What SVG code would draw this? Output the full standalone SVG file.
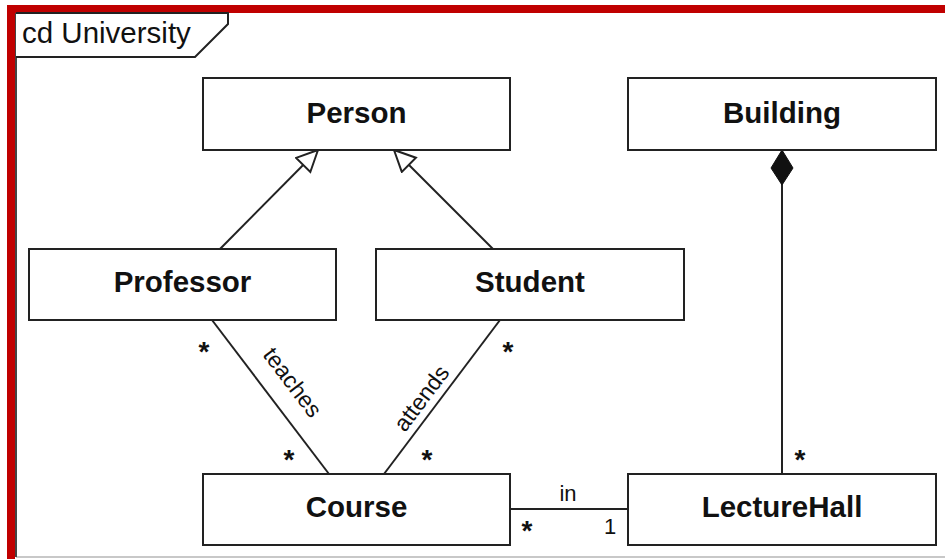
<svg xmlns="http://www.w3.org/2000/svg" width="945" height="559" viewBox="0 0 945 559">
  <style>
    .box { fill: #ffffff; stroke: #222222; stroke-width: 2; }
    .name { font-family: "Liberation Sans", Arial, sans-serif; font-size: 29.5px; font-weight: bold; fill: #111111; text-anchor: middle; }
    .lbl { font-family: "Liberation Sans", Arial, sans-serif; font-size: 22px; fill: #111111; }
    .rot { font-family: "Liberation Sans", Arial, sans-serif; font-size: 23px; fill: #111111; }
    .mult { font-family: "Liberation Sans", Arial, sans-serif; font-size: 28px; font-weight: bold; fill: #111111; text-anchor: middle; }
    .edge { fill: none; stroke: #222222; stroke-width: 2; }
  </style>
  <defs>
    <marker id="gen" markerUnits="userSpaceOnUse" markerWidth="26" markerHeight="26" refX="22" refY="11" orient="auto">
      <path d="M1,1 L22,11 L1,21 Z" fill="#ffffff" stroke="#222222" stroke-width="2"/>
    </marker>
    <marker id="comp" markerUnits="userSpaceOnUse" markerWidth="38" markerHeight="26" refX="36" refY="12" orient="auto">
      <path d="M1,12 L18,1 L36,12 L18,23 Z" fill="#111111" stroke="#111111" stroke-width="1"/>
    </marker>
  </defs>

  <rect x="0" y="0" width="945" height="559" fill="#ffffff"/>

  <!-- diagram frame -->
  <g id="frame">
    <line x1="16" y1="557" x2="945" y2="557" stroke="#c8c8c8" stroke-width="2"/>
    <line x1="16" y1="13" x2="16" y2="557" stroke="#444444" stroke-width="2"/>
    <rect x="7" y="5" width="938" height="8" fill="#c00000"/>
    <rect x="7" y="5" width="8" height="554" fill="#c00000"/>
    <path d="M16,13 L228,13 L228,24 L195,57 L16,57" fill="#ffffff" stroke="#222222" stroke-width="2"/>
    <text x="22" y="43" font-family="Liberation Sans, Arial, sans-serif" font-size="29.5" fill="#111111">cd University</text>
  </g>

  <!-- connectors -->
  <g id="connectors">
    <line class="edge" x1="220" y1="249" x2="318" y2="150" marker-end="url(#gen)"/>
    <line class="edge" x1="493" y1="249" x2="394" y2="150" marker-end="url(#gen)"/>
    <line class="edge" x1="212" y1="320" x2="329" y2="474"/>
    <line class="edge" x1="500" y1="320" x2="384" y2="474"/>
    <line class="edge" x1="510" y1="509" x2="628" y2="509"/>
    <line class="edge" x1="782" y1="474" x2="782" y2="150" marker-end="url(#comp)"/>

    <text class="mult" x="204" y="361">*</text>
    <text class="mult" x="289" y="469">*</text>
    <text class="rot" transform="translate(262,355) rotate(52.8)">teaches</text>

    <text class="mult" x="508" y="361">*</text>
    <text class="mult" x="427" y="469">*</text>
    <text class="rot" transform="translate(405,433) rotate(-53)">attends</text>

    <text class="lbl" x="568" y="501" text-anchor="middle">in</text>
    <text class="mult" x="527" y="540">*</text>
    <text class="lbl" x="610" y="534" text-anchor="middle">1</text>

    <text class="mult" x="800" y="469">*</text>
  </g>

  <!-- classes -->
  <g id="person">
    <rect class="box" x="203" y="78" width="307" height="72"/>
    <text class="name" x="356.5" y="123">Person</text>
  </g>
  <g id="building">
    <rect class="box" x="628" y="78" width="308" height="72"/>
    <text class="name" x="782" y="123">Building</text>
  </g>
  <g id="professor">
    <rect class="box" x="29" y="249" width="307" height="71"/>
    <text class="name" x="182.5" y="292">Professor</text>
  </g>
  <g id="student">
    <rect class="box" x="376" y="249" width="308" height="71"/>
    <text class="name" x="530" y="292">Student</text>
  </g>
  <g id="course">
    <rect class="box" x="203" y="474" width="307" height="71"/>
    <text class="name" x="356.5" y="517">Course</text>
  </g>
  <g id="lecturehall">
    <rect class="box" x="628" y="474" width="308" height="71"/>
    <text class="name" x="782" y="517">LectureHall</text>
  </g>
</svg>
